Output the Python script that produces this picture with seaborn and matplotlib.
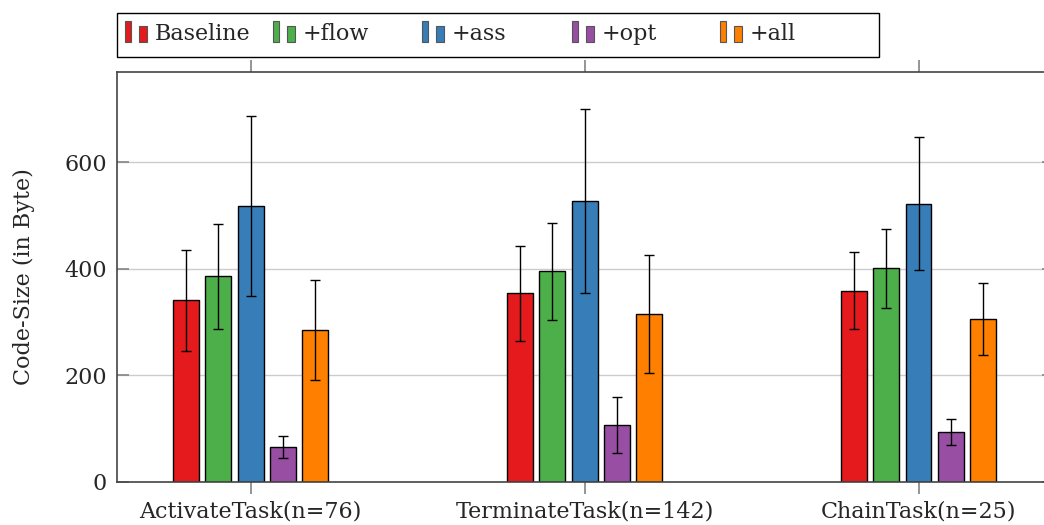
import matplotlib
matplotlib.use('Agg')
import matplotlib.pyplot as plt
from matplotlib.patches import Rectangle
from matplotlib.legend_handler import HandlerBase
import seaborn as sns
import pandas as pd

tasks = ['ActivateTask(n=76)', 'TerminateTask(n=142)', 'ChainTask(n=25)']
variants = ['Baseline', '+flow', '+ass', '+opt', '+all']
colors = ['#E41A1C', '#4DAF4A', '#377EB8', '#984EA3', '#FF7F00']

baseline_mean = [341, 354, 359]
flow_mean = [386, 395, 401]
ass_mean = [518, 527, 522]
opt_mean = [65, 107, 93]
all_mean = [285, 315, 306]

baseline_err = [95, 89, 72]
flow_err = [99, 92, 74]
ass_err = [170, 173, 125]
opt_err = [20, 53, 24]
all_err = [94, 111, 67]

means = [baseline_mean, flow_mean, ass_mean, opt_mean, all_mean]
errs = [baseline_err, flow_err, ass_err, opt_err, all_err]

rows = []
for v, m in zip(variants, means):
    for t, val in zip(tasks, m):
        rows.append({'task': t, 'variant': v, 'size': val})
df = pd.DataFrame(rows)

sns.set_theme(style='white')
plt.rcParams['font.family'] = ['DejaVu Serif']
plt.rcParams['font.size'] = 16

fig = plt.figure(figsize=(10.44, 5.25), dpi=100)
# right spine falls just outside the picture, as in the original crop
ax = fig.add_axes([0.112, 0.0825, 0.898, 0.7805])

sns.barplot(data=df, x='task', y='size', hue='variant', palette=colors,
            width=0.48, gap=0.19, edgecolor='black', linewidth=1,
            errorbar=None, legend=False, ax=ax, saturation=1)

# error bars on top of each bar
for cont, e in zip(ax.containers, errs):
    xs = [b.get_x() + b.get_width() / 2 for b in cont]
    ys = [b.get_height() for b in cont]
    ax.errorbar(xs, ys, yerr=e, fmt='none', ecolor='black', elinewidth=1,
                capsize=3.8, capthick=1, zorder=5)

ax.set_xlim(-0.4, 2.407)
ax.set_ylim(0, 770)
ax.set_yticks([0, 200, 400, 600])
ax.yaxis.grid(True, color='#cccccc', linewidth=1)
ax.set_axisbelow(True)
ax.set_xlabel('')
ax.set_ylabel('Code-Size (in Byte)', fontsize=16, labelpad=21)
ax.tick_params(axis='y', direction='in', length=8.5, color='#888888',
               labelsize=16, right=True, left=True, pad=7)
ax.tick_params(axis='x', direction='out', length=8.5, color='#888888',
               labelsize=16, top=True, bottom=True, pad=5)
for s in ax.spines.values():
    s.set_color('#444444')
    s.set_linewidth(1.2)


class TwoBars(HandlerBase):
    def create_artists(self, legend, orig_handle, xdescent, ydescent,
                       width, height, fontsize, trans):
        fc = orig_handle.get_facecolor()
        y0 = -ydescent - height * 0.12
        r1 = Rectangle((-xdescent, y0), width * 0.26, height * 1.32,
                       facecolor=fc, edgecolor='#555555', lw=0.8, transform=trans)
        r2 = Rectangle((-xdescent + width * 0.62, y0), width * 0.33, height * 1.0,
                       facecolor=fc, edgecolor='#555555', lw=0.8, transform=trans)
        return [r1, r2]


fig.add_artist(Rectangle((0.112, 0.891), 0.730, 0.084, transform=fig.transFigure,
                         facecolor='white', edgecolor='black', lw=1))
entry_x = [125, 273, 422, 572, 720]
for v, c, x in zip(variants, colors, entry_x):
    h = Rectangle((0, 0), 1, 1, facecolor=c)
    fig.legend([h], [v], loc='center left', bbox_to_anchor=(x / 1044, 0.935),
               frameon=False, fontsize=16, handler_map={Rectangle: TwoBars()},
               handlelength=1.05, handletextpad=0.3, borderpad=0, borderaxespad=0)

fig.savefig('out.png', dpi=100)
